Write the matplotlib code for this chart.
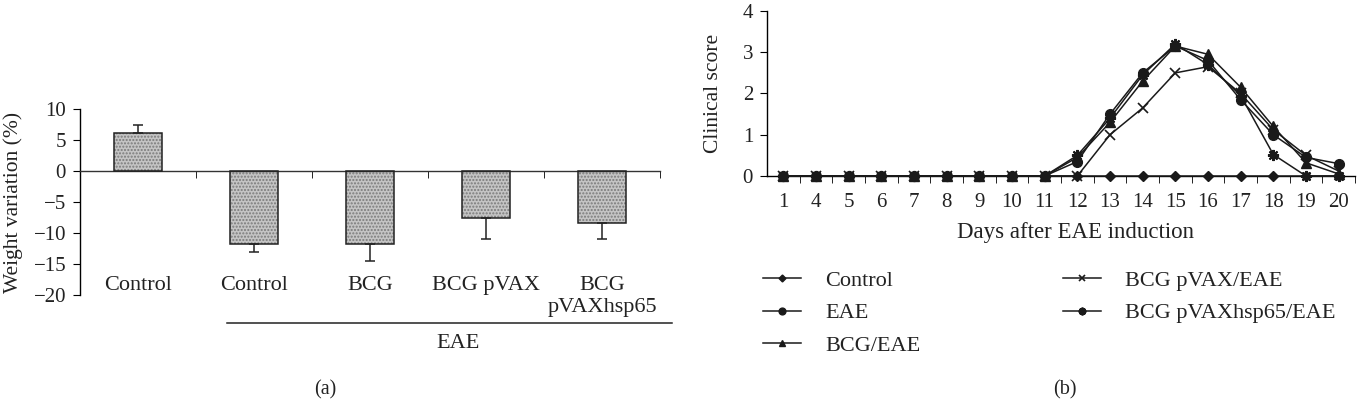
import matplotlib.pyplot as plt
import matplotlib.transforms as mtransforms

plt.rcParams['font.family'] = ['Liberation Serif', 'DejaVu Serif']
plt.rcParams['axes.linewidth'] = 1.0

# (a) weight variation
groups = ['Control', 'Control', 'BCG', 'BCG pVAX', 'BCG\npVAXhsp65']
weight = [6.1, -11.8, -11.7, -7.5, -8.4]
weight_err = [1.4, 1.2, 2.8, 3.5, 2.5]
eae_label = 'EAE'

# (b) clinical score
days = ['1', '4', '5', '6', '7', '8', '9', '10', '11', '12',
        '13', '14', '15', '16', '17', '18', '19', '20']
score_control = [0] * 18
score_eae = [0, 0, 0, 0, 0, 0, 0, 0, 0, 0.35, 1.5, 2.5, 3.15, 2.8, 1.85, 1.0, 0.45, 0.3]
score_bcg = [0, 0, 0, 0, 0, 0, 0, 0, 0, 0.45, 1.3, 2.3, 3.15, 2.95, 2.15, 1.2, 0.32, 0.05]
score_pvax = [0, 0, 0, 0, 0, 0, 0, 0, 0, 0.0, 1.0, 1.65, 2.5, 2.65, 2.0, 1.12, 0.5, 0.12]
score_hsp65 = [0, 0, 0, 0, 0, 0, 0, 0, 0, 0.5, 1.4, 2.45, 3.2, 2.7, 1.95, 0.52, 0.0, 0.0]
series_names = ['Control', 'EAE', 'BCG/EAE', 'BCG pVAX/EAE', 'BCG pVAXhsp65/EAE']

fig = plt.figure(figsize=(13.72, 4.04), dpi=100)
W, H = 1372, 404
txt = '#222222'


def px_axes(x0, y0, x1, y1):
    return fig.add_axes([x0 / W, 1 - y1 / H, (x1 - x0) / W, (y1 - y0) / H])


# ---------- panel (a) ----------
ax1 = px_axes(80, 109, 660, 295)
xs = list(range(len(groups)))
ax1.bar(xs, weight, width=0.41, color='#c4c4c4', edgecolor='#7a7a7a',
        hatch='.....', linewidth=0, zorder=2)
ax1.bar(xs, weight, width=0.41, fill=False, edgecolor=txt,
        linewidth=1.1, zorder=3)
lower = [0 if v > 0 else e for v, e in zip(weight, weight_err)]
upper = [e if v > 0 else 0 for v, e in zip(weight, weight_err)]
ax1.errorbar(xs, weight, yerr=[lower, upper], fmt='none', ecolor=txt,
             elinewidth=1.1, capsize=3.5, capthick=1.1, zorder=4)

ax1.set_xlim(-0.5, len(groups) - 0.5)
ax1.set_ylim(-20, 10)
ax1.set_yticks(range(-20, 11, 5))
ax1.spines['top'].set_visible(False)
ax1.spines['right'].set_visible(False)
ax1.spines['bottom'].set_position(('data', 0))
ax1.spines['bottom'].set_color('#333333')
ax1.set_xticks([])
ax1.set_xticks([i + 0.5 for i in xs], minor=True)
ax1.tick_params(axis='x', which='minor', direction='out', length=5, labelbottom=False)
ax1.tick_params(axis='y', direction='out', length=5, pad=5, labelsize=15,
                labelcolor=txt)
ax1.set_ylabel('Weight variation (%)', fontsize=15.5, color=txt)
ax1.yaxis.set_label_coords(-0.098, 0.5)

trans1 = mtransforms.blended_transform_factory(ax1.transData, ax1.transAxes)
for i, g in enumerate(groups):
    ax1.text(i, 0.10, g, transform=trans1, ha='center', va='top',
             fontsize=16, linespacing=1.2, color=txt)
ax1.plot([0.77, 4.6], [-0.15, -0.15], transform=trans1, color=txt,
         lw=1.1, clip_on=False)
ax1.text(2.76, -0.26, eae_label, transform=trans1, ha='center', va='center',
         fontsize=16, color=txt)
fig.text(325 / W, 1 - 390 / H, '(a)', ha='center', va='center', fontsize=14.5,
         color=txt)

# ---------- panel (b) ----------
ax2 = px_axes(767, 11, 1355, 176)
xi = list(range(len(days)))
kw = dict(color='#1a1a1a', lw=1.1, clip_on=False, zorder=3)
l1, = ax2.plot(xi, score_control, marker='D', ms=5, **kw)
l2, = ax2.plot(xi, score_eae, marker='o', ms=7, **kw)
l3, = ax2.plot(xi, score_bcg, marker='^', ms=7, **kw)
l4, = ax2.plot(xi, score_pvax, marker='x', ms=7, mew=1.2, **kw)
l5, = ax2.plot(xi, score_hsp65, marker=(8, 2, 0), ms=8, mew=1.5, **kw)

ax2.set_xlim(-0.5, len(days) - 0.5)
ax2.set_ylim(0, 4)
ax2.set_yticks(range(0, 5))
ax2.set_xticks(xi)
ax2.set_xticklabels(days)
ax2.set_xticks([i + 0.5 for i in xi], minor=True)
ax2.spines['top'].set_visible(False)
ax2.spines['right'].set_visible(False)
ax2.tick_params(axis='x', which='major', length=0, pad=12.5, labelsize=15,
                labelcolor=txt)
ax2.tick_params(axis='x', which='minor', direction='out', length=5)
ax2.tick_params(axis='y', direction='out', length=5, pad=5, labelsize=15,
                labelcolor=txt)
ax2.set_ylabel('Clinical score', fontsize=15.5, color=txt)
ax2.yaxis.set_label_coords(-0.075, 0.5)
ax2.set_xlabel('Days after EAE induction', fontsize=16.5, color=txt)
ax2.xaxis.set_label_coords(0.524, -0.28)

handles = [l1, l2, l3, l4, l5]
leg_kw = dict(frameon=False, fontsize=16, handlelength=1.7, handletextpad=1.1,
              labelspacing=0.55, borderpad=0, borderaxespad=0, markerscale=0.7,
              loc='upper left', labelcolor=txt)
fig.legend(handles[:3], series_names[:3],
           bbox_to_anchor=(763 / W, 1 - 270 / H), **leg_kw)
fig.legend(handles[3:], series_names[3:],
           bbox_to_anchor=(1063 / W, 1 - 270 / H), **leg_kw)
fig.text(1065 / W, 1 - 390 / H, '(b)', ha='center', va='center', fontsize=14.5,
         color=txt)

fig.savefig('out.png', dpi=100)
